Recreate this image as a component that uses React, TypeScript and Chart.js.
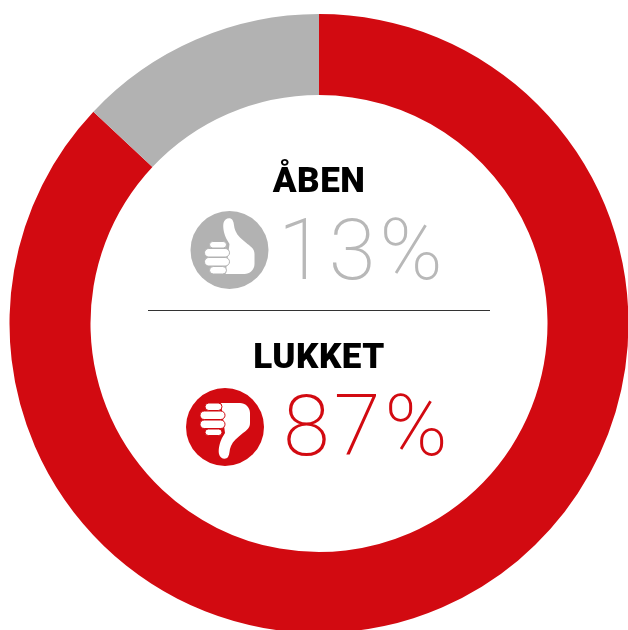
import React, { useEffect, useRef } from "react";
import { Chart, registerables } from "chart.js";

Chart.register(...registerables);

const categories = ["LUKKET", "ÅBEN"];
const values = [87, 13];
const colors = ["#D20A11", "#B2B2B2"];
const percentLabels = ["87%", "13%"];

function thumb(ctx: CanvasRenderingContext2D, cx: number, cy: number, up: boolean, bg: string) {
  ctx.save();
  ctx.translate(cx, cy);
  ctx.fillStyle = bg;
  ctx.beginPath();
  ctx.arc(0, 0, 39, 0, Math.PI * 2);
  ctx.fill();
  if (!up) ctx.scale(1, -1);
  ctx.fillStyle = "#fff";
  ctx.beginPath();
  ctx.moveTo(-4, 24);
  ctx.lineTo(15, 24);
  ctx.bezierCurveTo(20, 24, 25, 20, 25, 14);
  ctx.lineTo(25, 4);
  ctx.bezierCurveTo(25, -1, 22, -3, 18, -6);
  ctx.bezierCurveTo(12, -11, 8, -14, 6, -19);
  ctx.bezierCurveTo(4, -23, 5, -27, 3, -30);
  ctx.bezierCurveTo(1, -33, -5, -32, -6, -27);
  ctx.bezierCurveTo(-7, -22, -5, -15, -3, -11);
  ctx.lineTo(0, -6);
  ctx.closePath();
  ctx.fill();
  const fingers = [
    [-20, -8.5, 17, 6.5],
    [-25, -1.5, 25, 8.5],
    [-25, 7.5, 25, 8.5],
    [-20, 16.5, 17, 7.5],
  ];
  ctx.strokeStyle = bg;
  ctx.lineWidth = 1;
  for (const [x, y, w, h] of fingers) {
    ctx.beginPath();
    ctx.roundRect(x, y, w, h, h / 2);
    ctx.fill();
    ctx.stroke();
  }
  ctx.restore();
}

const centerPlugin = {
  id: "center",
  afterDraw(chart: any) {
    const { ctx, chartArea } = chart;
    const cx = Math.floor((chartArea.left + chartArea.right) / 2);
    const cy = Math.floor((chartArea.top + chartArea.bottom) / 2);
    ctx.save();
    ctx.textAlign = "center";
    ctx.textBaseline = "alphabetic";
    ctx.fillStyle = "#000";
    ctx.font = "900 35px Roboto";
    ctx.letterSpacing = "0.5px";
    ctx.fillText(categories[1], cx, cy - 131);
    ctx.fillText(categories[0], cx, cy + 45);
    ctx.font = "200 85px Roboto";
    ctx.letterSpacing = "4px";
    ctx.fillStyle = "#B8B8B8";
    ctx.textAlign = "left";
    ctx.fillText(percentLabels[1], cx - 41, cy - 44);
    ctx.fillStyle = colors[0];
    ctx.fillText(percentLabels[0], cx - 36, cy + 132);
    ctx.letterSpacing = "0px";
    ctx.strokeStyle = "#333";
    ctx.lineWidth = 1;
    ctx.beginPath();
    ctx.moveTo(cx - 171, cy - 12.5);
    ctx.lineTo(cx + 171, cy - 12.5);
    ctx.stroke();
    ctx.restore();
    thumb(ctx, cx - 89.5, cy - 73, true, colors[1]);
    thumb(ctx, cx - 94, cy + 104, false, colors[0]);
  },
};

export default function App() {
  const ref = useRef<HTMLCanvasElement>(null);
  useEffect(() => {
    document.body.style.margin = "0";
    document.documentElement.style.overflow = "hidden";
    const chart = new Chart(ref.current!, {
      type: "doughnut",
      data: {
        labels: categories,
        datasets: [{ data: values, backgroundColor: colors, borderWidth: 0 }],
      },
      options: {
        animation: false,
        responsive: false,
        cutout: "73.83%",
        rotation: 0,
        layout: { padding: 10.5 },
        plugins: { legend: { display: false }, tooltip: { enabled: false } },
      },
      plugins: [centerPlugin],
    });
    return () => chart.destroy();
  }, []);
  return (
    <div style={{ position: "relative", width: 628, height: 630, overflow: "hidden", background: "#fff" }}>
      <canvas ref={ref} width={640} height={641} style={{ position: "absolute", left: -1, top: 3, width: 640, height: 641 }} />
    </div>
  );
}
